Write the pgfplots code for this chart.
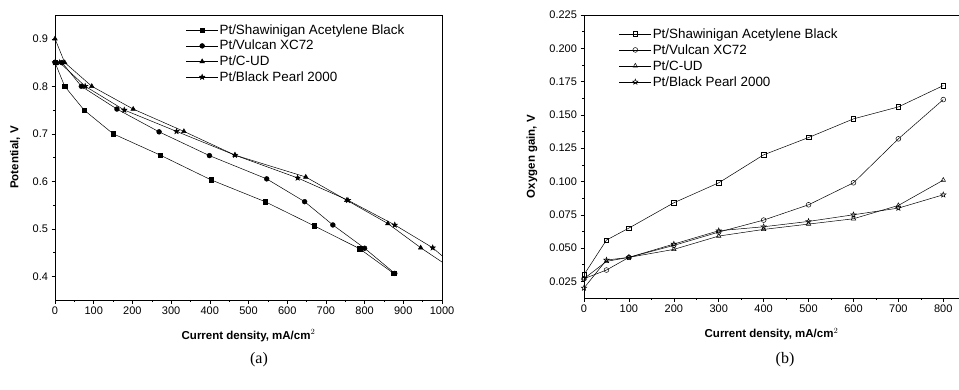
\documentclass[border=0pt]{standalone}
\usepackage{pgfplots}
\pgfplotsset{compat=1.18}
\usepackage{fontspec}
\setmainfont{Liberation Sans}
\newfontfamily\seriffont{Liberation Serif}
\newcommand\starpath{%
  \pgfpathmoveto{\pgfqpointpolar{90}{\pgfplotmarksize}}%
  \pgfpathlineto{\pgfqpointpolar{126}{0.42\pgfplotmarksize}}%
  \pgfpathlineto{\pgfqpointpolar{162}{\pgfplotmarksize}}%
  \pgfpathlineto{\pgfqpointpolar{198}{0.42\pgfplotmarksize}}%
  \pgfpathlineto{\pgfqpointpolar{234}{\pgfplotmarksize}}%
  \pgfpathlineto{\pgfqpointpolar{270}{0.42\pgfplotmarksize}}%
  \pgfpathlineto{\pgfqpointpolar{306}{\pgfplotmarksize}}%
  \pgfpathlineto{\pgfqpointpolar{342}{0.42\pgfplotmarksize}}%
  \pgfpathlineto{\pgfqpointpolar{18}{\pgfplotmarksize}}%
  \pgfpathlineto{\pgfqpointpolar{54}{0.42\pgfplotmarksize}}%
  \pgfpathclose}
\pgfdeclareplotmark{fstar}{\starpath\pgfusepathqfillstroke}
\pgfdeclareplotmark{ostar}{\starpath\pgfusepathqstroke}
\begin{document}
\begin{tikzpicture}[x=1pt,y=1pt]
\path[use as bounding box] (0,0) rectangle (959,389);
\pgfplotsset{
  every axis/.append style={
    scale only axis, anchor=south west,
    font=\fontsize{11}{12}\selectfont,
    tick align=outside, xtick pos=bottom, ytick pos=left,
    minor tick num=1, major tick length=3.5pt, minor tick length=1.8pt,
    tick style={black, line width=0.5pt},
    axis line style={line width=0.7pt},
    /pgf/number format/assume math mode=true,
    /pgf/number format/1000 sep={},
    legend cell align=left,
    legend image code/.code={\draw[mark repeat=2,mark phase=2] plot coordinates {(0pt,0pt)(16pt,0pt)(32pt,0pt)};},
  },
  every axis plot/.append style={black, line width=0.5pt, mark size=2.2pt},
}
% ---------------- panel (a) ----------------
\begin{axis}[
  at={(55pt,89pt)}, width=387pt, height=285pt,
  xmin=0, xmax=1000, ymin=0.35, ymax=0.95,
  xtick={0,100,...,1000}, ytick={0.4,0.5,...,0.9},
  yticklabel style={/pgf/number format/.cd, fixed, fixed zerofill, precision=1},
  xlabel={\bfseries Current density, mA/cm$^2$},
  ylabel={\bfseries Potential, V},
  xlabel style={at={(axis description cs:0.5,-0.125)}, anchor=center, font=\fontsize{11.5}{12}\selectfont},
  ylabel style={at={(axis description cs:-0.103,0.5)}, anchor=center, font=\fontsize{11.5}{12}\selectfont},
  legend style={at={(0.33,0.978)}, anchor=north west, draw=none, fill=none,
    nodes={font=\fontsize{13.4}{14}\selectfont, inner sep=1.2pt}, row sep=2pt},
]
\addplot[mark=square*] coordinates {(0,0.85)(25,0.80)(75,0.75)(150,0.70)(272,0.655)(403,0.603)(543,0.557)(670,0.506)(787,0.458)(875,0.406)};
\addlegendentry{Pt/Shawinigan Acetylene Black}
\addplot[mark=*, mark size=2.4pt] coordinates {(0,0.85)(18,0.85)(68,0.80)(160,0.752)(269,0.704)(399,0.654)(547,0.605)(645,0.557)(718,0.508)(800,0.459)(878,0.406)};
\addlegendentry{Pt/Vulcan XC72}
\addplot[mark=triangle*, mark size=2.6pt] coordinates {(0,0.90)(25,0.85)(95,0.80)(202,0.752)(333,0.705)(465,0.655)(648,0.609)(754,0.560)(860,0.511)(945,0.460)};
\addlegendentry{Pt/C-UD}
\addplot[mark=fstar, mark size=2.8pt] coordinates {(0,0.85)(12,0.85)(78,0.80)(179,0.750)(314,0.705)(465,0.655)(627,0.607)(757,0.560)(878,0.508)(976,0.460)};
\addlegendentry{Pt/Black Pearl 2000}
\addplot[forget plot, no marks] coordinates {(945,0.460)(1055,0.40)};
\addplot[forget plot, no marks] coordinates {(976,0.460)(1050,0.408)};
\end{axis}
% ---------------- panel (b) ----------------
\begin{axis}[
  at={(584pt,91pt)}, width=375pt, height=283pt,
  xmin=0, xmax=835, ymin=0.0125, ymax=0.225,
  xtick={0,100,...,800}, ytick={0.025,0.05,...,0.226},
  yticklabel style={/pgf/number format/.cd, fixed, fixed zerofill, precision=3},
  xlabel={\bfseries Current density, mA/cm$^2$},
  ylabel={\bfseries Oxygen gain, V},
  xlabel style={at={(axis description cs:0.5,-0.127)}, anchor=center, font=\fontsize{11.5}{12}\selectfont},
  ylabel style={at={(axis description cs:-0.139,0.5)}, anchor=center, font=\fontsize{11.5}{12}\selectfont},
  legend style={at={(0.085,0.965)}, anchor=north west, draw=none, fill=none,
    nodes={font=\fontsize{13.4}{14}\selectfont, inner sep=1.2pt}, row sep=2.4pt},
]
\addplot[mark=square, mark options={solid}] coordinates {(0,0.030)(50,0.056)(100,0.065)(200,0.084)(300,0.099)(400,0.120)(500,0.133)(600,0.147)(700,0.156)(800,0.172)};
\addlegendentry{Pt/Shawinigan Acetylene Black}
\addplot[mark=o, mark size=2.4pt] coordinates {(0,0.027)(50,0.0335)(100,0.043)(200,0.052)(300,0.062)(400,0.071)(500,0.0825)(600,0.099)(700,0.132)(800,0.1615)};
\addlegendentry{Pt/Vulcan XC72}
\addplot[mark=triangle, mark size=2.6pt] coordinates {(0,0.027)(50,0.040)(100,0.043)(200,0.049)(300,0.059)(400,0.064)(500,0.068)(600,0.072)(700,0.082)(800,0.101)};
\addlegendentry{Pt/C-UD}
\addplot[mark=ostar, mark size=2.8pt] coordinates {(0,0.020)(50,0.041)(100,0.043)(200,0.053)(300,0.063)(400,0.066)(500,0.070)(600,0.075)(700,0.080)(800,0.090)};
\addlegendentry{Pt/Black Pearl 2000}
\end{axis}
\node[font=\seriffont\fontsize{16}{17}\selectfont] at (259,29) {(a)};
\node[font=\seriffont\fontsize{16}{17}\selectfont] at (785,29) {(b)};
\end{tikzpicture}
\end{document}
